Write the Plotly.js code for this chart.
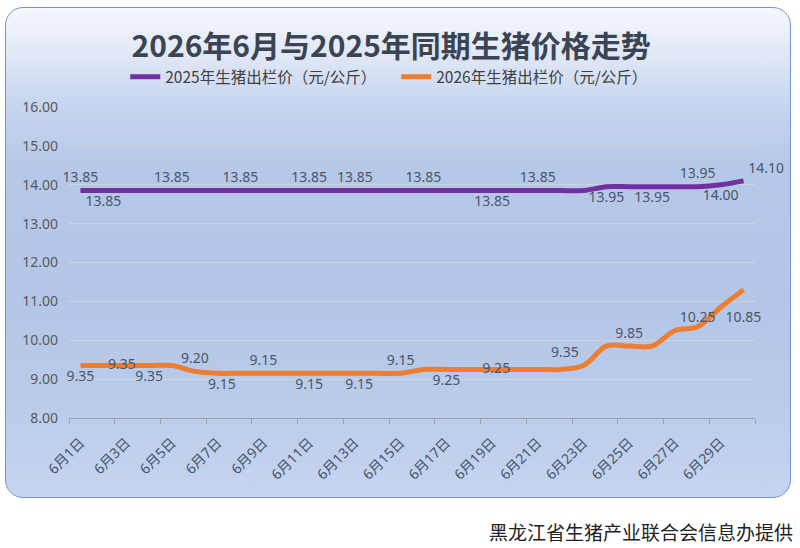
<!DOCTYPE html>
<html>
<head>
<meta charset="utf-8">
<script src="https://cdn.plot.ly/plotly-3.0.1.min.js"></script>
<style>
  html, body { margin: 0; padding: 0; background: #ffffff; }
  #wrap { position: relative; width: 800px; height: 548px; overflow: hidden; }
  #panel {
    position: absolute; left: 5px; top: 7px; width: 784px; height: 489px;
    border: 1.5px solid #6f93d6; border-radius: 18px;
    background: linear-gradient(180deg, #f5f7fc 0%, #dfe7f6 10%, #c6d4ef 20%, #b6c8e8 32%, #b4c6e7 60%, #b9cbea 80%, #c6d4ef 100%);
  }
  #chart { position: absolute; left: 0; top: 0; width: 800px; height: 548px; }
</style>
</head>
<body>
<div id="wrap">
  <div id="panel"></div>
  <div id="chart"></div>
</div>
<script>
// ---- data ----
const days = ['6月1日','6月2日','6月3日','6月4日','6月5日','6月6日','6月7日','6月8日','6月9日','6月10日',
              '6月11日','6月12日','6月13日','6月14日','6月15日','6月16日','6月17日','6月18日','6月19日','6月20日',
              '6月21日','6月22日','6月23日','6月24日','6月25日','6月26日','6月27日','6月28日','6月29日','6月30日'];

const price2025 = [13.85,13.85,13.85,13.85,13.85,13.85,13.85,13.85,13.85,13.85,
                   13.85,13.85,13.85,13.85,13.85,13.85,13.85,13.85,13.85,13.85,
                   13.85,13.85,13.85,13.95,13.95,13.95,13.95,13.95,14.00,14.10];

const price2026 = [9.35,9.35,9.35,9.35,9.35,9.20,9.15,9.15,9.15,9.15,
                   9.15,9.15,9.15,9.15,9.15,9.25,9.25,9.25,9.25,9.25,
                   9.25,9.25,9.35,9.85,9.85,9.85,10.25,10.35,10.85,11.30];

const name2025 = '2025年生猪出栏价（元/公斤）';
const name2026 = '2026年生猪出栏价（元/公斤）';

// days (1-based) that carry a data label
const labelDays2025 = [1,2,5,8,11,13,16,19,21,24,26,27,29,30];
const labelDays2026 = [1,2,4,6,8,9,11,14,15,17,20,23,25,27,29];

// ---- label placement (style) ----
const labelPos2025 = {1:'top center',2:'bottom center',5:'top center',8:'top center',11:'top center',
  13:'top center',16:'top center',19:'bottom center',21:'top center',24:'bottom center',
  26:'bottom center',27:'top right',29:'bottom center',30:'top right'};
const labelPos2026 = {1:'bottom center',2:'middle right',4:'bottom center',6:'top center',8:'bottom left',
  9:'top center',11:'bottom center',14:'bottom left',15:'top center',17:'bottom center',
  20:'middle left',23:'top left',25:'top center',27:'top right',29:'bottom right'};

function labelText(vals, shown) {
  return vals.map((v, i) => shown.includes(i + 1) ? v.toFixed(2) : '');
}
function labelPositions(map) {
  return days.map((d, i) => map[i + 1] || 'top center');
}

const numFont = 'Noto Sans, Noto Sans CJK SC, sans-serif';
const cjkFont = 'Noto Sans CJK SC, Noto Sans, sans-serif';

const traces = [
  { x: days, y: price2025, name: name2025, type: 'scatter', mode: 'lines',
    line: { color: '#7030A0', width: 5, shape: 'spline', smoothing: 1 }, cliponaxis: false },
  { x: days, y: price2026, name: name2026, type: 'scatter', mode: 'lines',
    line: { color: '#ED7D31', width: 5, shape: 'spline', smoothing: 1 }, cliponaxis: false },
  { x: days, y: price2025, type: 'scatter', mode: 'markers+text', showlegend: false, hoverinfo: 'skip',
    marker: { size: 6, opacity: 0, color: '#7030A0' },
    text: labelText(price2025, labelDays2025), textposition: labelPositions(labelPos2025),
    textfont: { family: numFont, size: 14, color: '#4a5568' }, cliponaxis: false },
  { x: days, y: price2026, type: 'scatter', mode: 'markers+text', showlegend: false, hoverinfo: 'skip',
    marker: { size: 6, opacity: 0, color: '#ED7D31' },
    text: labelText(price2026, labelDays2026), textposition: labelPositions(labelPos2026),
    textfont: { family: numFont, size: 14, color: '#4a5568' }, cliponaxis: false }
];

const layout = {
  width: 800, height: 548, autosize: false,
  margin: { l: 69, r: 45, t: 107, b: 130, pad: 0 },
  paper_bgcolor: 'rgba(0,0,0,0)', plot_bgcolor: 'rgba(0,0,0,0)',
  title: {
    text: '2026年6月与2025年同期生猪价格走势',
    font: { family: cjkFont, size: 30, color: '#3b4453', weight: 700 },
    xref: 'container', yref: 'container', x: 0.489, y: 1 - 46 / 548,
    xanchor: 'center', yanchor: 'middle'
  },
  showlegend: true,
  legend: {
    orientation: 'h', x: 0.082, xanchor: 'left', y: 1.096, yanchor: 'middle',
    font: { family: cjkFont, size: 15.5, color: '#404040' },
    entrywidth: 226, entrywidthmode: 'pixels', bgcolor: 'rgba(0,0,0,0)'
  },
  xaxis: {
    type: 'category', categoryorder: 'array', categoryarray: days,
    range: [-0.5, 29.5], tickmode: 'linear', tick0: 0, dtick: 2, tickson: 'boundaries',
    ticks: 'outside', ticklen: 5, tickcolor: '#9ea4ad', tickwidth: 1,
    showline: true, linecolor: '#9ea4ad', linewidth: 1, showgrid: false, zeroline: false,
    tickangle: -45, ticklabelstandoff: 10,
    tickfont: { family: numFont, size: 14, color: '#44546A' }
  },
  yaxis: {
    range: [8, 16], tickmode: 'linear', tick0: 8, dtick: 1, tickformat: '.2f',
    showgrid: true, gridcolor: '#cfd3da', gridwidth: 1, zeroline: false, showline: false,
    ticks: '', ticklabelstandoff: 10,
    tickfont: { family: numFont, size: 14, color: '#595959' }
  },
  annotations: [{
    text: '黑龙江省生猪产业联合会信息办提供', showarrow: false,
    xref: 'paper', yref: 'paper', x: (795 - 69) / 686, y: (418 - 531) / 311,
    xanchor: 'right', yanchor: 'middle',
    font: { family: cjkFont, size: 19, color: '#222222' }
  }]
};

Plotly.newPlot('chart', traces, layout, { displayModeBar: false, staticPlot: true });
</script>
</body>
</html>
